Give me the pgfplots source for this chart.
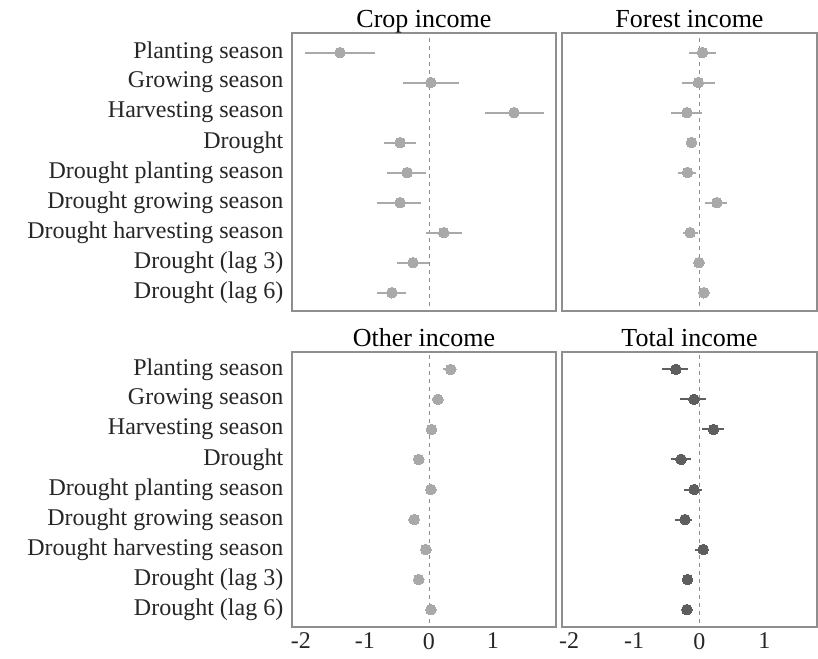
\documentclass[border=0pt]{standalone}
\usepackage{fontspec}
\setmainfont{Liberation Serif}
\usepackage{pgfplots}
\pgfplotsset{compat=1.18}
\usepackage{pgfplotstable}
\definecolor{ptl}{HTML}{A9A9A9}
\definecolor{ptd}{HTML}{5E5E5E}
\definecolor{frm}{HTML}{8E8E8E}

\pgfplotstableread{
y x lo hi
1 -1.39 -1.94 -0.84
2 0.03 -0.41 0.47
3 1.33 0.875 1.79
4 -0.45 -0.70 -0.21
5 -0.34 -0.65 -0.05
6 -0.45 -0.81 -0.12
7 0.23 -0.04 0.52
8 -0.25 -0.50 0.00
9 -0.58 -0.81 -0.36
}\crop
\pgfplotstableread{
y x lo hi
1 0.05 -0.16 0.26
2 -0.015 -0.27 0.24
3 -0.19 -0.43 0.04
4 -0.12 -0.18 -0.04
5 -0.18 -0.32 -0.05
6 0.27 0.09 0.42
7 -0.14 -0.25 -0.02
8 -0.005 -0.09 0.08
9 0.07 0.00 0.13
}\forest
\pgfplotstableread{
y x lo hi
1 0.34 0.22 0.43
2 0.14 0.04 0.22
3 0.04 -0.05 0.12
4 -0.16 -0.23 -0.08
5 0.03 -0.05 0.12
6 -0.23 -0.32 -0.14
7 -0.05 -0.13 0.04
8 -0.16 -0.23 -0.08
9 0.03 -0.05 0.11
}\other
\pgfplotstableread{
y x lo hi
1 -0.36 -0.57 -0.18
2 -0.08 -0.30 0.11
3 0.22 0.04 0.38
4 -0.28 -0.43 -0.13
5 -0.08 -0.23 0.04
6 -0.22 -0.38 -0.11
7 0.06 -0.07 0.15
8 -0.18 -0.25 -0.12
9 -0.19 -0.26 -0.13
}\total

\pgfplotsset{
 panel/.style={
  scale only axis, anchor=north west,
  y dir=reverse,
  ytick={1,...,9},
  xtick={-2,-1,0,1},
  major tick length=0pt,
  axis line style={frm, line width=0.9pt},
  title style={font=\fontsize{19.5}{22}\selectfont, anchor=base, at={(0.5,1)}, yshift=-2pt},
  tick label style={font=\fontsize{18}{21}\selectfont, text=black!85},
  yticklabel style={anchor=east, xshift=-3pt},
  xticklabel style={anchor=north, yshift=-1pt},
  yticklabels={},
  xticklabels={},
 },
 toprow/.style={ymin=0.35, ymax=9.61, height=208.5pt},
 botrow/.style={ymin=0.42, ymax=9.58, height=206.25pt},
 leftp/.style={xmin=-2.14, xmax=1.985, width=198pt},
 rightp/.style={xmin=-2.11, xmax=1.81, width=191.25pt},
 labs/.style={yticklabels={Planting season, Growing season, Harvesting season, Drought, Drought planting season, Drought growing season, Drought harvesting season, Drought (lag 3), Drought (lag 6)}},
 xlabs/.style={xticklabels={-2,-1,0,1}},
}
\newcommand\drawpanel[2]{%
 \addplot[frm, dashed, line width=0.5pt] coordinates {(0,0) (0,10)};
 \addplot[#2, only marks, mark=*, mark size=4pt, mark options={draw=#2, fill=#2, line width=0pt},
   error bars/.cd, x dir=both, x explicit, error mark=none,
   error bar style={draw=#2, line width=1.5pt, solid}]
   table[x=x, y=y, x error plus expr=\thisrow{hi}-\thisrow{x}, x error minus expr=\thisrow{x}-\thisrow{lo}] {#1};
}

\begin{document}
\begin{tikzpicture}
\useasboundingbox (0,0) rectangle (613.5pt,-494.25pt);
\begin{axis}[panel, leftp, toprow, labs, at={(219pt,-24.75pt)}, title={Crop income}]
\drawpanel{\crop}{ptl}
\end{axis}
\begin{axis}[panel, rightp, toprow, at={(421.5pt,-24.75pt)}, title={Forest income}]
\drawpanel{\forest}{ptl}
\end{axis}
\begin{axis}[panel, leftp, botrow, labs, xlabs, at={(219pt,-264pt)}, title={Other income}]
\drawpanel{\other}{ptl}
\end{axis}
\begin{axis}[panel, rightp, botrow, xlabs, at={(421.5pt,-264pt)}, title={Total income}]
\drawpanel{\total}{ptd}
\end{axis}
\end{tikzpicture}
\end{document}
